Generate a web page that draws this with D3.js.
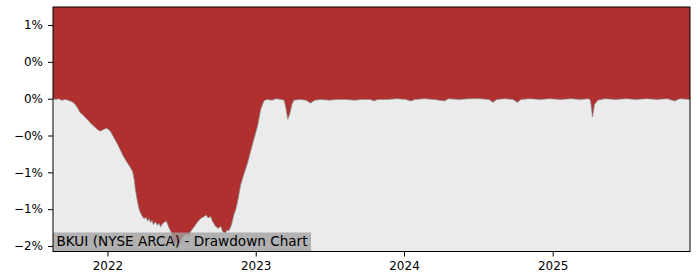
<!DOCTYPE html>
<html>
<head>
<meta charset="utf-8">
<script src="https://cdn.jsdelivr.net/npm/d3@7"></script>
<style>
  body{margin:0;background:#fff;}
  svg text{font-family:"DejaVu Sans",sans-serif;fill:#000;}
</style>
</head>
<body>
<svg id="chart" width="700" height="280"></svg>
<script>
'use strict';

// drawdown in percent
var dates=[
    '2021-08-20','2021-08-27','2021-09-03','2021-09-10','2021-09-20','2021-10-01','2021-10-08','2021-10-14',
    '2021-10-20','2021-10-26','2021-11-02','2021-11-08','2021-11-14','2021-11-20','2021-11-26','2021-12-02',
    '2021-12-10','2021-12-15','2021-12-22','2021-12-30','2022-01-08','2022-01-16','2022-01-26','2022-02-02',
    '2022-02-10','2022-02-19','2022-02-26','2022-03-04','2022-03-08','2022-03-11','2022-03-16','2022-03-21',
    '2022-03-26','2022-04-01','2022-04-06','2022-04-10','2022-04-14','2022-04-17','2022-04-21','2022-04-24',
    '2022-04-29','2022-05-04','2022-05-08','2022-05-12','2022-05-16','2022-05-20','2022-05-26','2022-06-02',
    '2022-06-06','2022-06-10','2022-06-16','2022-06-20','2022-06-22','2022-06-25','2022-06-28','2022-07-03',
    '2022-07-08','2022-07-15','2022-07-20','2022-07-25','2022-08-04','2022-08-11','2022-08-20','2022-08-27',
    '2022-09-01','2022-09-06','2022-09-12','2022-09-17','2022-09-25','2022-10-02','2022-10-07','2022-10-12',
    '2022-10-19','2022-10-23','2022-10-26','2022-11-02','2022-11-08','2022-11-13','2022-11-18','2022-11-25',
    '2022-12-02','2022-12-12','2022-12-25','2023-01-06','2023-01-13','2023-01-21','2023-01-28','2023-02-10',
    '2023-02-20','2023-03-04','2023-03-12','2023-03-16','2023-03-21','2023-03-26','2023-03-31','2023-04-05',
    '2023-04-20','2023-05-05','2023-05-16','2023-05-26','2023-06-10','2023-07-01','2023-07-20','2023-08-10',
    '2023-09-01','2023-09-20','2023-10-10','2023-10-19','2023-10-28','2023-11-20','2023-12-15','2024-01-05',
    '2024-01-18','2024-01-28','2024-02-20','2024-03-15','2024-04-09','2024-04-20','2024-05-15','2024-06-10',
    '2024-07-05','2024-07-28','2024-08-07','2024-08-16','2024-09-05','2024-09-25','2024-10-06','2024-10-15',
    '2024-11-05','2024-12-01','2024-12-25','2025-01-20','2025-02-15','2025-03-10','2025-03-30','2025-04-04',
    '2025-04-09','2025-04-14','2025-04-22','2025-05-10','2025-06-05','2025-07-01','2025-07-25','2025-08-20',
    '2025-09-15','2025-10-10','2025-10-28','2025-11-10','2025-12-05'
];
var drawdown=[
    0,-0.01,0,-0.02,-0.01,-0.03,-0.05,-0.08,
    -0.13,-0.19,-0.22,-0.26,-0.29,-0.33,-0.36,-0.39,
    -0.43,-0.44,-0.42,-0.40,-0.44,-0.52,-0.62,-0.70,
    -0.79,-0.87,-0.93,-0.99,-1.10,-1.24,-1.40,-1.52,
    -1.58,-1.63,-1.61,-1.66,-1.63,-1.68,-1.65,-1.71,
    -1.67,-1.72,-1.69,-1.74,-1.70,-1.68,-1.66,-1.76,
    -1.80,-1.90,-1.98,-1.93,-2.06,-2.00,-1.96,-1.90,
    -1.86,-1.83,-1.86,-1.80,-1.73,-1.67,-1.62,-1.60,
    -1.58,-1.62,-1.60,-1.67,-1.74,-1.76,-1.73,-1.81,
    -1.82,-1.78,-1.80,-1.72,-1.58,-1.50,-1.38,-1.17,
    -1.04,-0.87,-0.60,-0.36,-0.15,-0.03,-0.01,-0.02,
    0,-0.01,-0.02,-0.12,-0.28,-0.20,-0.08,-0.02,
    -0.01,-0.02,-0.06,-0.02,-0.01,-0.02,-0.01,-0.01,
    -0.02,-0.01,-0.01,-0.03,-0.01,-0.01,0,-0.01,
    -0.03,-0.01,0,-0.01,-0.03,0,-0.01,0,
    0,-0.01,-0.05,-0.01,0,-0.01,-0.05,-0.01,
    0,-0.01,0,-0.01,0,-0.01,0,-0.02,
    -0.25,-0.08,-0.02,0,-0.01,0,-0.01,0,
    -0.01,0,-0.03,0,-0.01
];
var yTicks=[1,0.5,0,-0.5,-1,-1.5,-2];
var yTickLabels=['1%','0%','0%','\u22120%','\u22121%','\u22121%','\u22122%'];
var xTicks=['2022-01-01','2023-01-01','2024-01-01','2025-01-01'];
var title='BKUI (NYSE ARCA) - Drawdown Chart';

var parse=d3.timeParse('%Y-%m-%d')
  , rows=dates.map(function(d,i){return {date:parse(d),value:drawdown[i]};})
  , m={top:7,right:10,bottom:28.5,left:53}
  , W=700,H=280
  , svg=d3.select('#chart')

var x=d3.scaleTime()
    .domain(d3.extent(rows,function(d){return d.date;}))
    .range([m.left,W-m.right]);
var y=d3.scaleLinear()
    .domain([-2.075,1.245])
    .range([H-m.bottom,m.top]);

svg.append('rect')
    .attr('x',m.left)
    .attr('y',m.top)
    .attr('width',W-m.left-m.right)
    .attr('height',H-m.top-m.bottom)
    .attr('fill','#ebebeb');

svg.append('path')
    .datum(rows)
    .attr('fill','#b03030')
    .attr('d',d3.area()
        .x(function(d){return x(d.date);})
        .y0(m.top)
        .y1(function(d){return y(d.value);}));

svg.append('path')
    .datum(rows)
    .attr('fill','none')
    .attr('stroke','#8a8a8a')
    .attr('stroke-width',0.7)
    .attr('d',d3.line()
        .x(function(d){return x(d.date);})
        .y(function(d){return y(d.value);}));

// title box
var tg=svg.append('g');
var tt=tg.append('text')
    .attr('x',m.left+3.5)
    .attr('y',H-m.bottom-5.5)
    .attr('font-size',13.6)
    .text(title);
var bb=tt.node().getBBox();
tg.insert('rect','text')
    .attr('x',m.left)
    .attr('y',H-m.bottom-19)
    .attr('width',bb.width+7)
    .attr('height',19)
    .attr('fill','#a0a0a0')
    .attr('fill-opacity',0.78);

var yAxis=d3.axisLeft(y)
    .tickValues(yTicks)
    .tickSize(5)
    .tickPadding(5)
    .tickFormat(function(d,i){return yTickLabels[i];});
var xAxis=d3.axisBottom(x)
    .tickValues(xTicks.map(parse))
    .tickSize(5)
    .tickPadding(5)
    .tickFormat(d3.timeFormat('%Y'));

svg.append('g')
    .attr('transform','translate('+m.left+',0)')
    .call(yAxis)
    .call(function(g){g.select('.domain').remove();})
    .selectAll('text').attr('font-size',12).attr('font-family','DejaVu Sans');
svg.append('g')
    .attr('transform','translate(0,'+(H-m.bottom)+')')
    .call(xAxis)
    .call(function(g){g.select('.domain').remove();})
    .selectAll('text').attr('font-size',12).attr('font-family','DejaVu Sans');

svg.selectAll('.tick line').attr('stroke','#000').attr('stroke-width',1);

svg.append('rect')
    .attr('x',m.left)
    .attr('y',m.top)
    .attr('width',W-m.left-m.right)
    .attr('height',H-m.top-m.bottom)
    .attr('fill','none')
    .attr('stroke','#000')
    .attr('stroke-width',1);
</script>
</body>
</html>
